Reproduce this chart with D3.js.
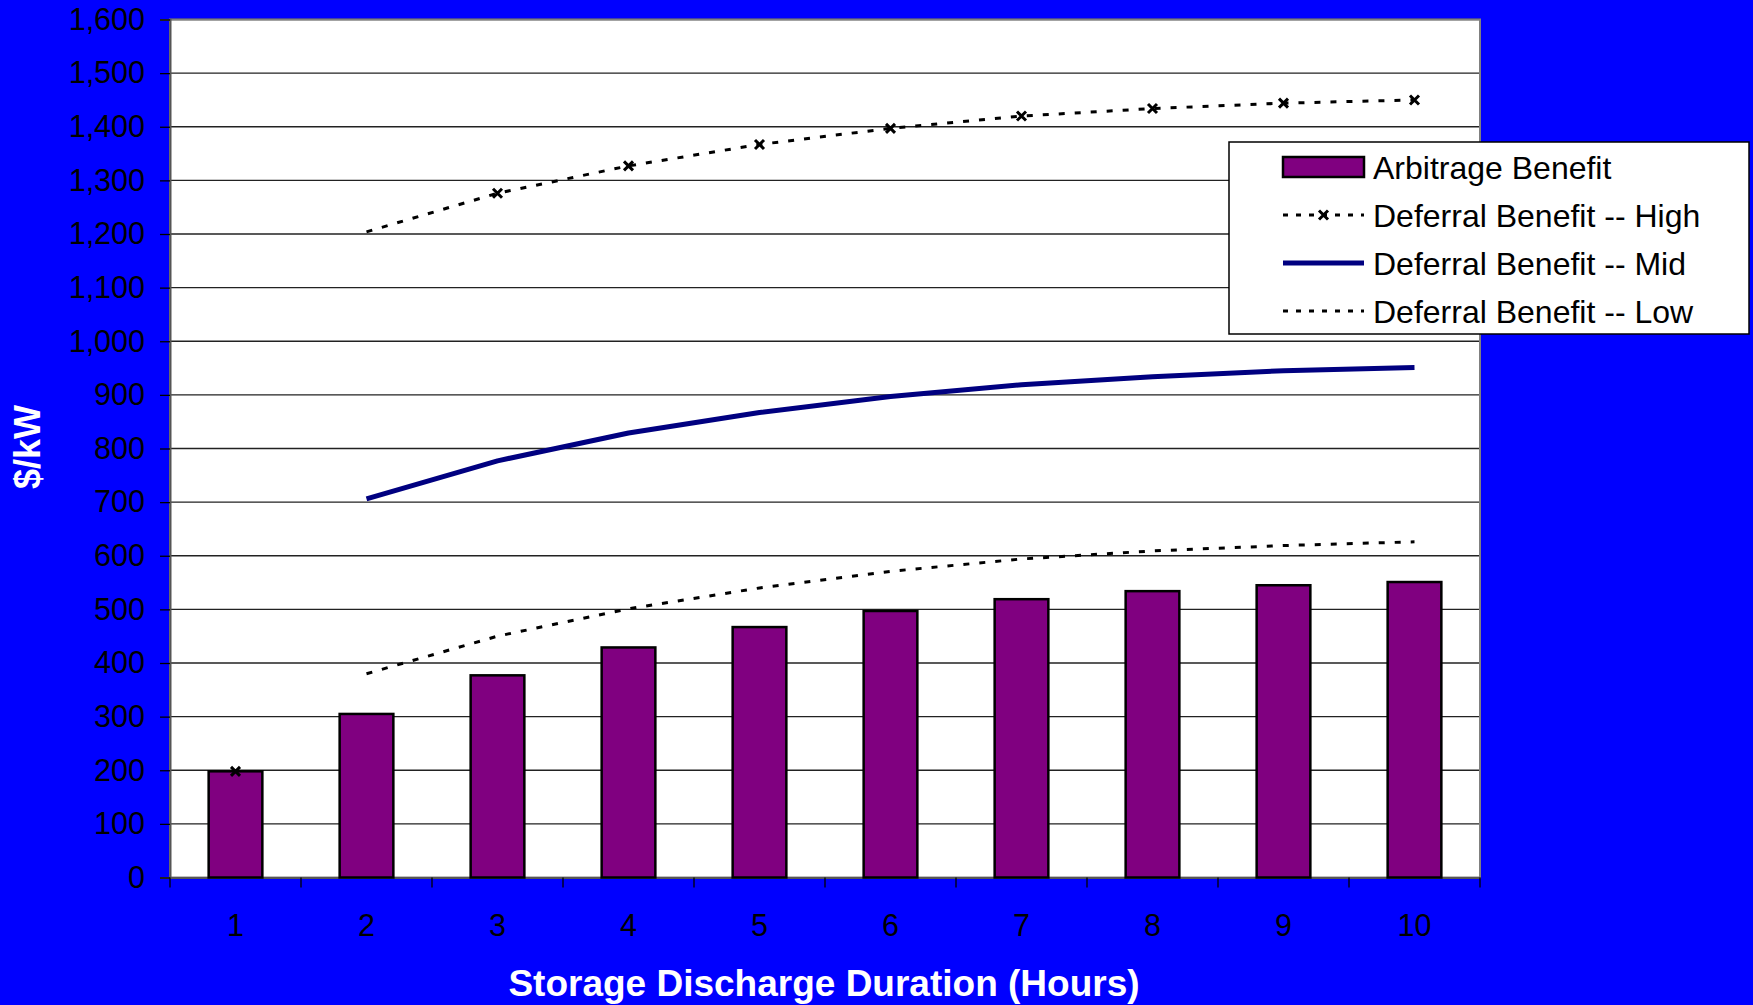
<!DOCTYPE html>
<html>
<head>
<meta charset="utf-8">
<script src="https://cdn.jsdelivr.net/npm/d3@7"></script>
<style>
  html, body { margin: 0; padding: 0; background: #0000FF; }
  svg { display: block; }
  text { font-family: "Liberation Sans", Arial, sans-serif; }
</style>
</head>
<body>
<svg id="chart" width="1753" height="1005"></svg>
<script>
// ---- data ----
const categories = ["1", "2", "3", "4", "5", "6", "7", "8", "9", "10"];
const arbitrageValues = [198, 305, 377, 429, 467, 497, 519, 534, 545, 551];
const highValues = [198, 1204, 1276, 1327, 1367, 1397, 1420, 1434, 1444, 1450];
const midValues = [null, 706, 777, 829, 867, 897, 919, 934, 945, 951];
const lowValues = [null, 380, 450, 501, 540, 571, 594, 609, 619, 626];
const yTicks = [0, 100, 200, 300, 400, 500, 600, 700, 800, 900, 1000, 1100, 1200, 1300, 1400, 1500, 1600];
const legendLabels = ["Arbitrage Benefit", "Deferral Benefit -- High", "Deferral Benefit -- Mid", "Deferral Benefit -- Low"];
const xTitle = "Storage Discharge Duration (Hours)";
const yTitle = "$/kW";

// ---- layout ----
const L = 170, R = 1480, T = 19.5, B = 877.5;
const svg = d3.select("#chart");

const x = d3.scaleBand().domain(categories).range([L, R]).paddingInner(0.59).paddingOuter(0.295);
const step = x.step();
const cx = c => x(c) + x.bandwidth() / 2;
const y = d3.scaleLinear().domain([0, 1600]).range([B, T]);

// plot area
svg.append("rect").attr("x", L).attr("y", T).attr("width", R - L).attr("height", B - T)
  .attr("fill", "#fff");

// gridlines
svg.append("g").selectAll("line").data(yTicks.filter(d => d > 0)).join("line")
  .attr("x1", L).attr("x2", R).attr("y1", d => y(d)).attr("y2", d => y(d))
  .attr("stroke", "#222").attr("stroke-width", 1.3);

// frame
svg.append("rect").attr("x", L).attr("y", T).attr("width", R - L).attr("height", B - T)
  .attr("fill", "none").attr("stroke", "#808080").attr("stroke-width", 2);

// y axis
const yAxis = d3.axisLeft(y).tickValues(yTicks).tickSize(10).tickPadding(15)
  .tickFormat(d3.format(","));
const gy = svg.append("g").attr("transform", `translate(${L},0)`).call(yAxis);
gy.select(".domain").attr("stroke", "#555").attr("stroke-width", 2);
gy.selectAll(".tick line").attr("stroke", "#000").attr("stroke-width", 1.3);
gy.selectAll(".tick text").attr("fill", "#000").attr("font-size", 30.5)
  .attr("font-family", "Liberation Sans, Arial, sans-serif");

// x axis
const xAxis = d3.axisBottom(x).tickSize(0).tickPadding(37);
const gx = svg.append("g").attr("transform", `translate(0,${B})`).call(xAxis);
gx.select(".domain").attr("stroke", "#555").attr("stroke-width", 2);
gx.selectAll(".tick text").attr("fill", "#000").attr("font-size", 30.5)
  .attr("font-family", "Liberation Sans, Arial, sans-serif");
// category boundary ticks
svg.append("g").selectAll("line").data(d3.range(categories.length + 1)).join("line")
  .attr("x1", i => L + i * step).attr("x2", i => L + i * step)
  .attr("y1", B).attr("y2", B + 10)
  .attr("stroke", "#000").attr("stroke-width", 1.3);

// bars
svg.append("g").selectAll("rect").data(categories).join("rect")
  .attr("x", c => x(c)).attr("width", x.bandwidth())
  .attr("y", (c, i) => y(arbitrageValues[i]))
  .attr("height", (c, i) => B - y(arbitrageValues[i]))
  .attr("fill", "#800080").attr("stroke", "#000").attr("stroke-width", 2.5);

// lines
const lineGen = d3.line().defined(d => d.v != null).x(d => cx(d.c)).y(d => y(d.v));
const toPts = arr => categories.map((c, i) => ({ c, v: arr[i], i }));

// High: line from category 2 onward
svg.append("path").datum(toPts(highValues).filter(d => d.i >= 1))
  .attr("d", lineGen).attr("fill", "none").attr("stroke", "#000")
  .attr("stroke-width", 3).attr("stroke-dasharray", "6,10");
svg.append("path").datum(toPts(lowValues))
  .attr("d", lineGen).attr("fill", "none").attr("stroke", "#000")
  .attr("stroke-width", 3).attr("stroke-dasharray", "6,10");
svg.append("path").datum(toPts(midValues))
  .attr("d", lineGen).attr("fill", "none").attr("stroke", "#000080")
  .attr("stroke-width", 5).attr("stroke-linejoin", "round");

// high markers (x)
const ms = 4.5;
const markerPath = (px, py) => `M${px - ms},${py - ms}L${px + ms},${py + ms}M${px - ms},${py + ms}L${px + ms},${py - ms}`;
svg.append("g").selectAll("path").data(toPts(highValues).filter(d => d.i !== 1)).join("path")
  .attr("d", d => markerPath(cx(d.c), y(d.v)))
  .attr("stroke", "#000").attr("stroke-width", 3).attr("fill", "none");

// axis titles
svg.append("text").attr("x", 824).attr("y", 996).attr("text-anchor", "middle")
  .attr("font-size", 37).attr("font-weight", "bold").attr("fill", "#fff").text(xTitle);
svg.append("text").attr("transform", "translate(40,447) rotate(-90)").attr("text-anchor", "middle")
  .attr("font-size", 36).attr("font-weight", "bold").attr("fill", "#fff").text(yTitle);

// legend
const lg = svg.append("g");
lg.append("rect").attr("x", 1229).attr("y", 142).attr("width", 520).attr("height", 192)
  .attr("fill", "#fff").attr("stroke", "#000").attr("stroke-width", 1.5);
const rowY = [167, 215, 263, 311];
const sx1 = 1283, sx2 = 1364;
lg.append("rect").attr("x", sx1).attr("y", rowY[0] - 10).attr("width", sx2 - sx1).attr("height", 20)
  .attr("fill", "#800080").attr("stroke", "#000").attr("stroke-width", 2.5);
lg.append("line").attr("x1", sx1).attr("x2", sx2).attr("y1", rowY[1]).attr("y2", rowY[1])
  .attr("stroke", "#000").attr("stroke-width", 3).attr("stroke-dasharray", "5,8");
lg.append("path").attr("d", markerPath((sx1 + sx2) / 2, rowY[1]))
  .attr("stroke", "#000").attr("stroke-width", 3).attr("fill", "none");
lg.append("line").attr("x1", sx1).attr("x2", sx2).attr("y1", rowY[2]).attr("y2", rowY[2])
  .attr("stroke", "#000080").attr("stroke-width", 5);
lg.append("line").attr("x1", sx1).attr("x2", sx2).attr("y1", rowY[3]).attr("y2", rowY[3])
  .attr("stroke", "#000").attr("stroke-width", 3).attr("stroke-dasharray", "5,8");
lg.selectAll("text").data(legendLabels).join("text")
  .attr("x", 1373).attr("y", (d, i) => rowY[i] + 12)
  .attr("font-size", 32).attr("fill", "#000").text(d => d);
</script>
</body>
</html>
